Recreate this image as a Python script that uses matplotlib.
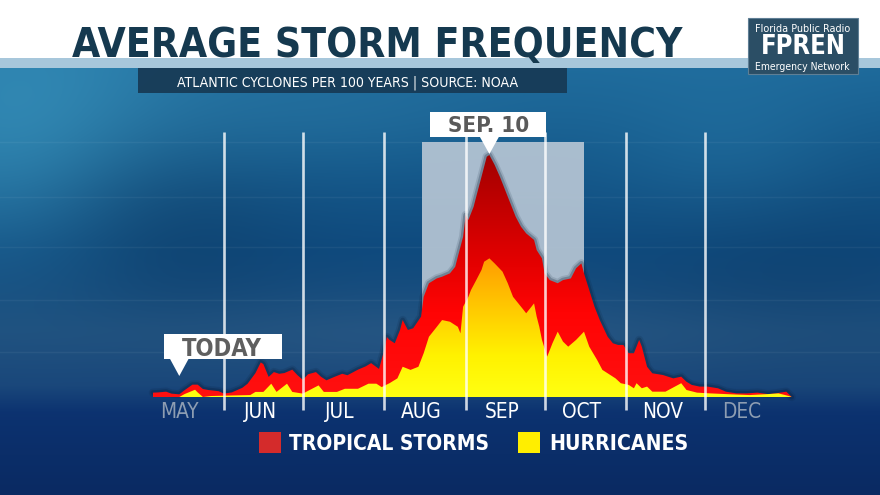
import os
import numpy as np
import matplotlib
matplotlib.use("Agg")
import matplotlib.pyplot as plt
from matplotlib import font_manager as fm
from matplotlib.colors import LinearSegmentedColormap, to_rgb
from matplotlib.patches import Rectangle, Polygon, PathPatch

# ---------------- data (day of year, storms per 100 years) ----------------
total_days = [125, 127, 130, 132, 135, 137, 140, 142, 144, 146, 150, 152, 155, 159, 161, 164, 166, 167,
              169, 171, 173, 175, 178, 180, 182, 184, 187, 189, 191, 194, 197, 199, 203, 206, 208, 211,
              213, 214, 215, 217, 219, 220, 222, 224, 227, 228, 230, 233, 235, 238, 240, 241, 243, 244,
              245, 247, 248, 250, 252, 253, 255, 257, 259, 261, 263, 265, 267, 270, 271, 273, 274, 276,
              279, 281, 284, 286, 288, 289, 291, 293, 295, 298, 300, 302, 304, 306, 308, 310, 311, 313,
              315, 319, 323, 326, 328, 330, 333, 336, 340, 343, 347, 351, 355, 359, 362, 366, 368]
total_freq = [1.8, 1.9, 2.2, 1.4, 1.1, 2.8, 5.1, 5.1, 3.3, 2.9, 2.4, 1.4, 1.9, 3.8, 5.5, 9.9, 14.3, 13.6,
              8.3, 10.3, 9.6, 9.9, 11.3, 9.0, 7.1, 9.4, 10.3, 8.3, 6.9, 8.3, 9.6, 9.0, 11.3, 12.7, 14.0, 11.6,
              19.4, 24.8, 23.6, 22.2, 27.7, 31.8, 27.7, 28.4, 33.2, 41.4, 47.0, 49.0, 49.7, 51.1, 53.8, 58.0, 66.2, 75.2,
              73.1, 78.6, 82.8, 91.0, 99.3, 100.0, 95.9, 91.0, 85.5, 80.0, 74.5, 70.4, 67.6, 64.9, 60.7, 57.3, 51.1, 48.3,
              47.0, 48.3, 49.0, 53.2, 55.2, 51.1, 44.2, 37.3, 31.8, 24.9, 22.2, 21.5, 21.5, 18.1, 18.1, 23.6, 20.8, 12.5,
              9.8, 9.1, 7.7, 8.4, 6.3, 5.0, 4.3, 4.3, 3.6, 2.2, 1.5, 1.5, 1.8, 1.2, 1.5, 2.2, 0.0]

hurr_days = [125, 135, 137, 141, 142, 144, 147, 154, 162, 164, 167, 170, 172, 176, 178, 182, 188, 190,
             195, 198, 203, 207, 210, 212, 215, 218, 220, 223, 226, 228, 230, 233, 235, 238, 241, 242,
             243, 245, 246, 248, 250, 251, 253, 255, 258, 260, 262, 264, 266, 267, 269, 270, 271, 272,
             273, 275, 277, 279, 281, 283, 286, 289, 291, 294, 296, 298, 301, 303, 306, 308, 309, 311,
             313, 315, 320, 326, 328, 332, 337, 345, 352, 359, 363, 367, 368]
hurr_freq = [0.0, 0.0, 1.2, 3.0, 1.9, 0.0, 0.4, 0.6, 0.8, 2.1, 2.1, 5.5, 2.1, 5.5, 2.1, 1.4, 4.8, 2.1,
             2.1, 3.4, 3.4, 5.5, 5.5, 4.1, 5.7, 7.7, 12.5, 11.2, 12.5, 18.1, 24.9, 29.0, 31.8, 31.1, 29.0, 26.3,
             37.3, 41.4, 44.2, 48.3, 52.5, 55.9, 57.3, 55.2, 51.8, 47.0, 41.4, 38.7, 36.0, 34.6, 37.3, 38.7, 33.2, 29.0,
             23.6, 16.7, 22.2, 27.0, 22.9, 20.8, 23.6, 27.0, 20.8, 15.3, 11.2, 9.8, 7.7, 5.7, 5.0, 3.6, 5.7, 3.6,
             4.3, 2.2, 2.2, 5.7, 2.9, 1.8, 1.5, 1.1, 0.8, 1.2, 1.5, 0.4, 0.0]

month_names = ["MAY", "JUN", "JUL", "AUG", "SEP", "OCT", "NOV", "DEC"]
month_label_days = [135, 166, 196, 227, 258, 288, 319, 349]
month_start_days = [152, 182, 213, 244, 274, 305, 335]
peak_day = 253
today_day = 135
peak_season = (227.5, 289.0)

title = "AVERAGE STORM FREQUENCY"
subtitle = "ATLANTIC CYCLONES PER 100 YEARS | SOURCE: NOAA"
legend_labels = ["TROPICAL STORMS", "HURRICANES"]
peak_label = "SEP. 10"
today_label = "TODAY"

# ---------------- fonts ----------------
def pick_font(bold):
    want = 700 if bold else 400
    fam_pref = ["Open Sans", "Roboto", "Liberation Sans Narrow", "DejaVu Sans", "Noto Sans", "Lato", "Inter"]
    best, best_score = None, 1e9
    for f in fm.fontManager.ttflist:
        b = os.path.basename(f.fname).lower()
        if "italic" in b or "oblique" in b:
            continue
        st = 99
        if "extracondensed" in b or "extra-condensed" in b:
            st = 2
        elif "semicondensed" in b or "semi-condensed" in b:
            st = 1
        elif "condensed" in b or "narrow" in b:
            st = 0
        if st == 99:
            continue
        w = f.weight
        if isinstance(w, str):
            w = fm.weight_dict.get(w, 400)
        if abs(w - want) > 150:
            continue
        fp = fam_pref.index(f.name) if f.name in fam_pref else len(fam_pref)
        score = st * 100 + fp * 10 + abs(w - want) / 100.0
        if score < best_score:
            best, best_score = f.fname, score
    if best is not None:
        return fm.FontProperties(fname=best)
    return fm.FontProperties(family="Roboto", weight="bold" if bold else "normal")

FB = pick_font(True)
FR = pick_font(False)

# ---------------- figure ----------------
W, H = 880, 495
fig = plt.figure(figsize=(8.8, 4.95), dpi=100)
renderer = fig.canvas.get_renderer()

bg = fig.add_axes([0, 0, 1, 1])
bg.set_xlim(0, W)
bg.set_ylim(H, 0)
bg.axis("off")
bg.set_zorder(0)

# background picture (smooth stormy blue)
yy, xx = np.mgrid[0:H, 0:W].astype(float)
stops = [60, 70, 150, 250, 330, 385, 412, 495]
cols = ["#1f6d9e", "#1e6a9b", "#155a8c", "#0f4a7e", "#1b4d7c", "#19467a", "#0c3270", "#0a2a62"]
rgb = np.array([to_rgb(c) for c in cols])
img = np.zeros((H, W, 3))
for k in range(3):
    img[..., k] = np.interp(yy, stops, rgb[:, k])


def blob(cx, cy, sx, sy, color, strength):
    g = (np.exp(-(((xx - cx) / sx) ** 2 + ((yy - cy) / sy) ** 2) / 2) * strength)[..., None]
    img[:] = img * (1 - g) + np.array(to_rgb(color)) * g


blob(30, 120, 130, 90, "#3e9dc5", 0.65)
blob(175, 230, 90, 70, "#0a3560", 0.45)
blob(790, 250, 110, 80, "#0a3560", 0.35)
blob(730, 140, 90, 60, "#2a80b0", 0.35)
blob(330, 110, 140, 40, "#2c7aa6", 0.35)
blob(450, 335, 330, 28, "#3a6790", 0.30)
img[:60] = 1.0
img[58:68] = to_rgb("#a7c7db")
bg.imshow(img, extent=[0, W, H, 0], aspect="auto", interpolation="bilinear", zorder=0)

# faint grid in background
for gy in [142, 197, 247, 300, 352]:
    bg.plot([0, W], [gy, gy], color="white", alpha=0.05, lw=1, zorder=1)

# ---------------- data axes ----------------
SLOPE, X0 = 2.628, -175.5     # pixel x = X0 + SLOPE * day
BASE, YS = 397.0, 2.42        # pixel y = BASE - YS * value
AXL, AXR, AXT, AXB = 140, 800, 100, 425
ax = fig.add_axes([AXL / W, 1 - AXB / H, (AXR - AXL) / W, (AXB - AXT) / H])
ax.set_zorder(2)
ax.patch.set_alpha(0)
ax.axis("off")
XL = ((AXL - X0) / SLOPE, (AXR - X0) / SLOPE)
YL = ((BASE - AXB) / YS, (BASE - AXT) / YS)

# peak-season shading
ax.add_patch(Rectangle((peak_season[0], 0), peak_season[1] - peak_season[0], (BASE - 142) / YS,
                       facecolor="#bac8d6", edgecolor="none", alpha=0.9, zorder=1))

# soft dark glow around the total curve
for lw, a in [(6, 0.12), (3.5, 0.25)]:
    ax.plot(total_days, total_freq, color="#06182f", lw=lw, alpha=a, zorder=2,
            solid_joinstyle="round", solid_capstyle="round")


def grad_fill(x, y, cmap, vmax, z):
    poly = ax.fill_between(x, 0, y, facecolor="none", edgecolor="none", zorder=z)
    path = poly.get_paths()[0]
    clip = PathPatch(path, transform=ax.transData, facecolor="none", edgecolor="none")
    ax.add_patch(clip)
    g = np.linspace(0, 1, 256)[:, None]
    im = ax.imshow(g, extent=[x[0], x[-1], 0, vmax], origin="lower", aspect="auto",
                   cmap=cmap, zorder=z, interpolation="bilinear")
    im.set_clip_path(clip)


red_cmap = LinearSegmentedColormap.from_list(
    "r", [(0, "#ff1010"), (0.35, "#ff0404"), (0.6, "#de0000"), (0.8, "#c00000"), (1, "#a20000")])
yel_cmap = LinearSegmentedColormap.from_list(
    "y", [(0, "#ffff12"), (0.3, "#fff200"), (0.65, "#ffc800"), (1, "#ff9c00")])
grad_fill(total_days, total_freq, red_cmap, max(total_freq), 3)
grad_fill(hurr_days, hurr_freq, yel_cmap, max(hurr_freq), 4)

# month separators
for d in month_start_days:
    ax.plot([d, d], [(BASE - 410) / YS, (BASE - 132) / YS], color="white", lw=1.9, alpha=0.8,
            zorder=5, solid_capstyle="butt")

ax.set_xlim(*XL)
ax.set_ylim(*YL)


def fit(t, cap, width):
    t.set_fontsize(cap)
    w = t.get_window_extent(renderer).width
    if w > width:
        t.set_fontsize(cap * width / w)
    elif w < width:
        t.set_fontsize(cap * min(width / w, 1.08))
    return t


# month labels
probe = ax.text(0, 0, "AUG", fontproperties=FR)
fit(probe, 14, 41)
msize = probe.get_fontsize()
probe.remove()
for name, d in zip(month_names, month_label_days):
    c = "#8d9db2" if name in ("MAY", "DEC") else "white"
    ax.text(d, (BASE - 418) / YS, name, fontproperties=FR, fontsize=msize, color=c,
            ha="center", va="baseline", zorder=6)

# ---------------- overlay (titles, callouts, legend) ----------------
ov = fig.add_axes([0, 0, 1, 1])
ov.set_xlim(0, W)
ov.set_ylim(H, 0)
ov.axis("off")
ov.patch.set_alpha(0)
ov.set_zorder(3)

fit(ov.text(377.5, 57, title, fontproperties=FB, color="#15394f", ha="center", va="baseline"), 30, 609)

ov.add_patch(Rectangle((137.5, 68), 429.5, 24.5, facecolor="#173a55", edgecolor="none", alpha=0.93))
fit(ov.text(348, 86, subtitle, fontproperties=FR, color="white", ha="center", va="baseline"), 10.5, 342)

# logo
ov.add_patch(Rectangle((748, 18), 110, 56, facecolor="#2b4e65", edgecolor="#5f7f95", lw=0.8))
fit(ov.text(802.5, 31.5, "Florida Public Radio", fontproperties=FR, color="white",
            ha="center", va="baseline"), 7.5, 95)
fit(ov.text(803, 54.5, "FPREN", fontproperties=FB, color="white", ha="center", va="baseline"), 17, 86)
fit(ov.text(802.5, 69.5, "Emergency Network", fontproperties=FR, color="white",
            ha="center", va="baseline"), 7, 95)

# SEP. 10 callout
px_peak = X0 + SLOPE * peak_day
py_peak = BASE - YS * max(total_freq)
ov.add_patch(Rectangle((px_peak - 59, 112), 116, 24.5, facecolor="white", edgecolor="none"))
ov.add_patch(Polygon([(px_peak - 10, 136), (px_peak + 10, 136), (px_peak, py_peak - 1)],
                     closed=True, facecolor="white", edgecolor="none"))
fit(ov.text(px_peak - 1, 132, peak_label, fontproperties=FB, color="#5a5a5a", ha="center",
            va="baseline"), 15, 81)

# TODAY callout
px_today = X0 + SLOPE * today_day
ov.add_patch(Rectangle((px_today - 15, 334), 118, 25, facecolor="white", edgecolor="none"))
ov.add_patch(Polygon([(px_today - 9.5, 358.5), (px_today + 9.5, 358.5), (px_today, 376)],
                     closed=True, facecolor="white", edgecolor="none"))
fit(ov.text(px_today + 43, 355.5, today_label, fontproperties=FB, color="#5f5f5f", ha="center",
            va="baseline"), 16, 80)

# legend
ov.add_patch(Rectangle((259, 432), 22, 21, facecolor="#d42b2b", edgecolor="none"))
fit(ov.text(289, 450, legend_labels[0], fontproperties=FB, color="white", ha="left",
            va="baseline"), 15, 200)
ov.add_patch(Rectangle((518, 432), 22, 21, facecolor="#ffee00", edgecolor="none"))
fit(ov.text(549, 450, legend_labels[1], fontproperties=FB, color="white", ha="left",
            va="baseline"), 15, 139)

fig.savefig("out.png", dpi=100)
